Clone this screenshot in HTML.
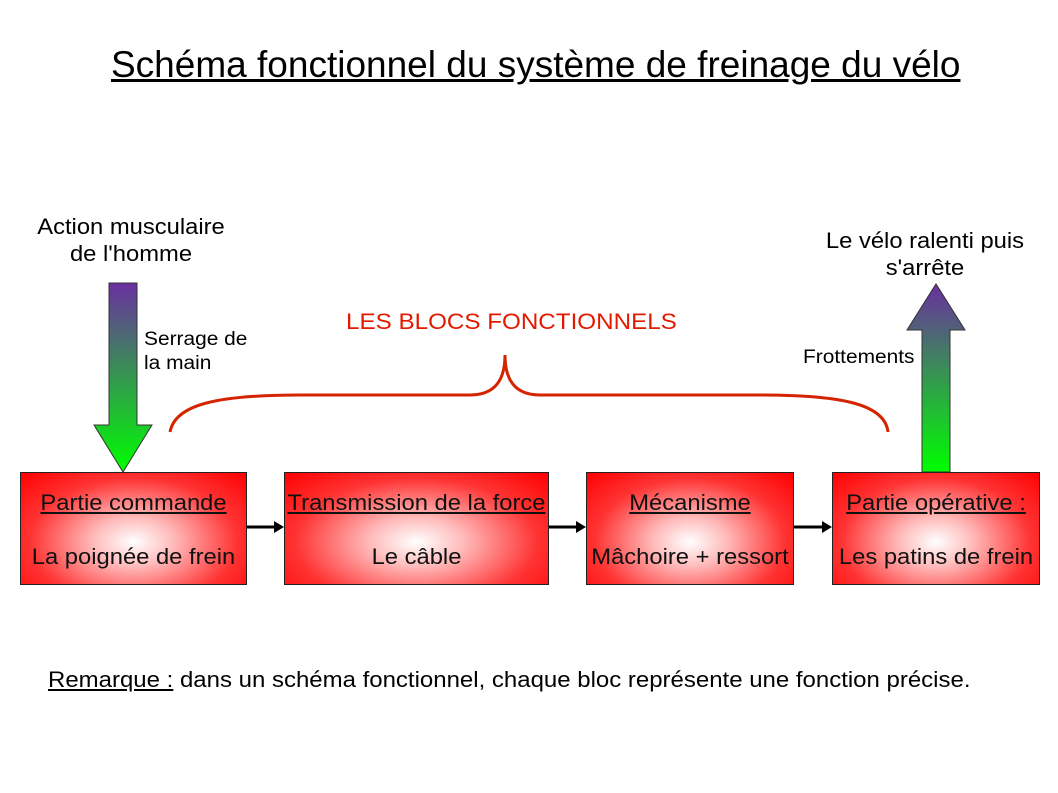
<!DOCTYPE html>
<html><head><meta charset="utf-8"><style>
body{margin:0;width:1058px;height:793px;background:#fff;position:relative;font-family:"Liberation Sans",sans-serif;overflow:hidden}
.t{position:absolute;white-space:nowrap}
.b{position:absolute;top:472px;height:113px;border:1px solid #222;box-sizing:border-box;background:radial-gradient(ellipse at 50% 62%,#fff 0%,#fbb 25%,#f33 65%,#f00 100%);text-align:center;font-size:22px;color:#111}
.b .a{position:absolute;left:0;right:0;top:17px}
.b .c{position:absolute;left:0;right:0;top:71px}
u{text-decoration:underline}
</style></head><body>
<div class="t" style="left:111px;top:44px;font-size:37px;text-decoration:underline;transform:scaleX(1.0);">Schéma fonctionnel du système de freinage du vélo</div>
<div class="t" style="left:10px;top:213px;width:242px;text-align:center;font-size:22px;line-height:27px;transform:scaleX(1.08)">Action musculaire<br>de l'homme</div>
<div class="t" style="left:805px;top:227px;width:240px;text-align:center;font-size:22px;line-height:27px;transform:scaleX(1.08)">Le vélo ralenti puis<br>s'arrête</div>
<div class="t" style="left:144px;top:328px;font-size:19px;line-height:24px;transform-origin:0 0;transform:scaleX(1.1)">Serrage de<br>la main</div>
<div class="t" style="left:803px;top:347px;font-size:19px;transform-origin:0 0;transform:scaleX(1.1)">Frottements</div>
<div class="t" style="left:346px;top:309px;font-size:22px;color:#e21a00;transform-origin:0 0;transform:scaleX(1.1)">LES BLOCS FONCTIONNELS</div>
<svg width="1058" height="793" style="position:absolute;left:0;top:0">
<defs>
<linearGradient id="g1" x1="0" y1="0" x2="0" y2="1"><stop offset="0" stop-color="#6a2fa0"/><stop offset="1" stop-color="#00ff00"/></linearGradient>
<linearGradient id="g2" x1="0" y1="1" x2="0" y2="0"><stop offset="0" stop-color="#00ff00"/><stop offset="1" stop-color="#6a2fa0"/></linearGradient>
</defs>
<polygon points="109,283 137,283 137,425 152,425 123,472 94,425 109,425" fill="url(#g1)" stroke="#333" stroke-width="1"/>
<polygon points="922,472 950,472 950,330 965,330 936,284 907,330 922,330" fill="url(#g2)" stroke="#333" stroke-width="1"/>
<path d="M170,432 C175,405 215,395 300,395 L470,395 C495,395 505,380 505,355 C505,380 515,395 540,395 L760,395 C845,395 885,405 888,432" fill="none" stroke="#d42400" stroke-width="3"/>
<g stroke="#000" stroke-width="3" fill="#000">
<line x1="246" y1="527" x2="276" y2="527"/><polygon points="284,527 274,521 274,533" stroke="none"/>
<line x1="548" y1="527" x2="578" y2="527"/><polygon points="586,527 576,521 576,533" stroke="none"/>
<line x1="793" y1="527" x2="824" y2="527"/><polygon points="832,527 822,521 822,533" stroke="none"/>
</g>
</svg>
<div class="b" style="left:20px;width:227px"><div class="a" style="transform:scaleX(1.08)"><u>Partie commande</u></div><div class="c" style="transform:scaleX(1.08)">La poignée de frein</div></div>
<div class="b" style="left:284px;width:265px"><div class="a" style="transform:scaleX(1.08)"><u>Transmission de la force</u></div><div class="c" style="transform:scaleX(1.08)">Le câble</div></div>
<div class="b" style="left:586px;width:208px"><div class="a" style="transform:scaleX(1.08)"><u>Mécanisme</u></div><div class="c" style="transform:scaleX(1.08)">Mâchoire + ressort</div></div>
<div class="b" style="left:832px;width:208px"><div class="a" style="transform:scaleX(1.08)"><u>Partie opérative :</u></div><div class="c" style="transform:scaleX(1.08)">Les patins de frein</div></div>
<div class="t" style="left:48px;top:667px;font-size:22px;transform-origin:0 0;transform:scaleX(1.09)"><u>Remarque :</u> dans un schéma fonctionnel, chaque bloc représente une fonction précise.</div>
</body></html>
